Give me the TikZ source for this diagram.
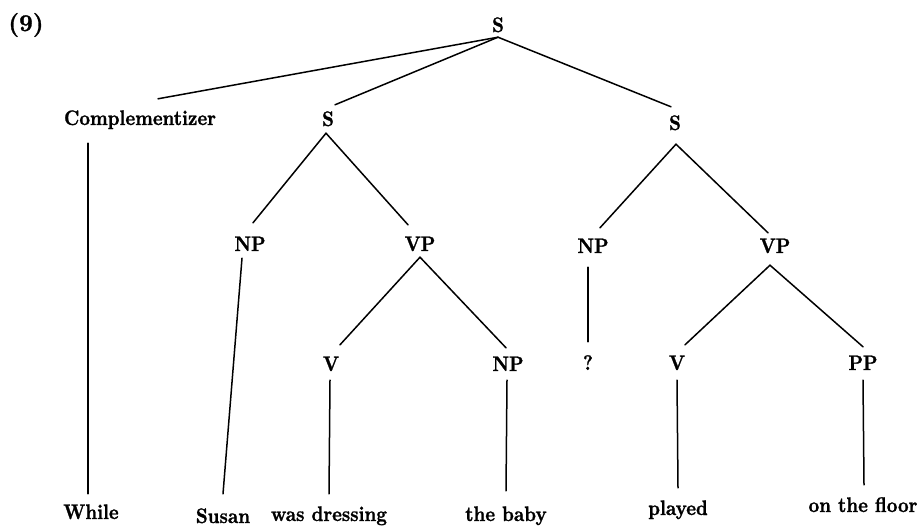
\documentclass[tikz,border=0pt]{standalone}
\usepackage{fontspec}
\newfontfamily\treefont{lmroman10-bold.otf}[FakeStretch=0.88, FakeBold=1.2]
\newfontfamily\numfont{lmroman10-bold.otf}[FakeBold=1.2]
\begin{document}
\begin{tikzpicture}[x=1pt,y=-1pt,
  tn/.style={font=\treefont\fontsize{21}{23}\selectfont, inner sep=0pt, text height=13pt, text depth=0pt, anchor=base},
  br/.style={line width=1.5pt, line cap=round}]
\fill[white] (0,0) rectangle (920,526);
\useasboundingbox (0,0) rectangle (920,526);
% labels
\node[tn, font=\numfont\fontsize{24}{26}\selectfont] (nine) at (26,31) {(9)};
\node[tn] (S0) at (498,32) {S};
\node[tn] (Comp) at (140,125) {Complementizer};
\node[tn] (S1) at (328,126) {S};
\node[tn] (S2) at (675,130) {S};
\node[tn] (NP1) at (250,251) {NP};
\node[tn] (VP1) at (420,251) {VP};
\node[tn] (NP2) at (593,253) {NP};
\node[tn] (VP2) at (775,253) {VP};
\node[tn] (V1) at (331,371) {V};
\node[tn] (NP3) at (508,371) {NP};
\node[tn] (Q) at (588,370) {?};
\node[tn] (V2) at (677,370) {V};
\node[tn] (PP) at (863,370) {PP};
\node[tn] (While) at (91,519) {While};
\node[tn] (Susan) at (223,523) {Susan};
\node[tn] (WD) at (329,521) {was dressing};
\node[tn] (TB) at (506,521) {the baby};
\node[tn] (PL) at (678,515) {played};
\node[tn] (OF) at (863,512) {on the floor};
% branches
\draw[br] ([shift={(0,5)}]S0.south) -- ([shift={(18,-13)}]Comp.north);
\draw[br] ([shift={(0,5)}]S0.south) -- ([shift={(7,-8)}]S1.north);
\draw[br] ([shift={(0,5)}]S0.south) -- ([shift={(-4,-10)}]S2.north);
\draw[br] ([shift={(-2,7)}]S1.south) -- ([shift={(3,-15)}]NP1.north);
\draw[br] ([shift={(-2,7)}]S1.south) -- ([shift={(-12,-13)}]VP1.north);
\draw[br] ([shift={(1,14)}]S2.south) -- ([shift={(7,-12)}]NP2.north);
\draw[br] ([shift={(1,14)}]S2.south) -- ([shift={(-7,-7)}]VP2.north);
\draw[br] ([shift={(0,6)}]VP1.south) -- ([shift={(9,-13)}]V1.north);
\draw[br] ([shift={(0,6)}]VP1.south) -- ([shift={(-2,-10)}]NP3.north);
\draw[br] ([shift={(-5,12)}]VP2.south) -- ([shift={(8,-12)}]V2.north);
\draw[br] ([shift={(-5,12)}]VP2.south) -- ([shift={(0,-10)}]PP.north);
\draw[br] ([shift={(-52,18)}]Comp.south) -- ([shift={(-3,-12)}]While.north);
\draw[br] ([shift={(-8,7)}]NP1.south) -- ([shift={(0,-16)}]Susan.north);
\draw[br] ([shift={(-5,14)}]NP2.south) -- ([shift={(0,-15)}]Q.north);
\draw[br] ([shift={(-1,9)}]V1.south) -- ([shift={(0,-14)}]WD.north);
\draw[br] ([shift={(-1,9)}]NP3.south) -- ([shift={(0,-17)}]TB.north);
\draw[br] ([shift={(0,10)}]V2.south) -- ([shift={(0,-14)}]PL.north);
\draw[br] ([shift={(0,10)}]PP.south) -- ([shift={(1,-14)}]OF.north);
\end{tikzpicture}
\end{document}
